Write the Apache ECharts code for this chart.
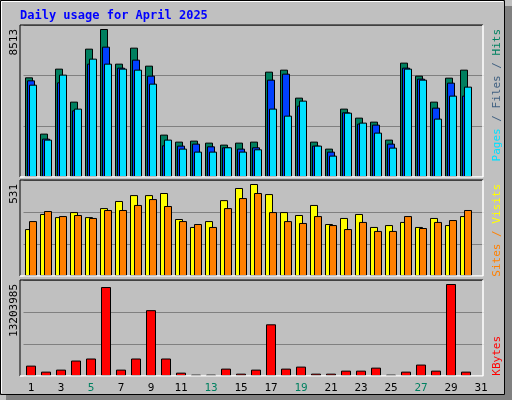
<!DOCTYPE html>
<html><head><meta charset="utf-8">
<script src="https://cdn.jsdelivr.net/npm/echarts@6/dist/echarts.min.js"></script>
<style>html,body{margin:0;padding:0;background:#c0c0c0}#c{width:512px;height:400px}</style>
</head><body><div id="c"></div>
<script>
const days = ['1','2','3','4','5','6','7','8','9','10','11','12','13','14','15','16','17','18','19','20','21','22','23','24','25','26','27','28','29','30','31'];
const weekend = ['5','6','12','13','19','20','26','27'];
const hits  = [5733,2495,6233,4335,7383,8513,6520,7440,6405,2438,2035,2093,1978,1863,1978,2035,6060,6175,4565,2035,1633,3933,3415,3185,2150,6578,5830,4335,5715,6175,null];
const files = [5560,2208,5445,3835,6520,7498,6290,6750,5830,1823,1805,1920,1765,1708,1633,1708,5600,5945,4105,1805,1460,3720,3070,3013,1920,6290,5658,3990,5428,4680,null];
const pages = [5310,2150,5888,3933,6808,6520,6233,6175,5370,2150,1633,1460,1460,1708,1460,1593,3933,3530,4393,1805,1230,3700,3128,2553,1690,6233,5600,3358,4680,5198,null];
const visits = [271,358,340,369,340,392,433,467,467,479,329,283,317,438,508,531,473,369,352,410,300,335,358,283,294,312,283,335,294,346,null];
const sites  = [317,375,346,352,335,381,381,410,444,404,317,300,283,392,450,479,369,317,306,346,294,271,312,260,260,346,277,312,323,381,null];
const kbytes = [1490000,626000,916000,2220000,2510000,12770000,916000,2510000,9450000,2510000,482000,193000,193000,1060000,337000,916000,7420000,1060000,1350000,337000,337000,771000,771000,1200000,193000,626000,1640000,771000,13203985,626000,null];
const maxLabels = ['8513','531','13203985'];

const mono = 'DejaVu Sans Mono';
const gridL = 23.5, gridW = 465;
const grids = [{top:25,h:152,max:8513*152/148},{top:180,h:96,max:531*96/92},{top:280,h:96,max:13203985*96/92}];

const chart = echarts.init(document.getElementById('c'));
const xAxes = grids.map((g,i)=>({type:'category',gridIndex:i,data:days,
  axisLine:{show:false},axisTick:{show:false},
  axisLabel:{show:i===2,fontFamily:mono,fontSize:11,margin:7,
    color:(v)=>weekend.includes(v)?'#008060':'#000'}}));
const yAxes = grids.map((g,i)=>({type:'value',gridIndex:i,min:0,max:g.max,interval:g.max/3,
  axisLabel:{show:false},axisLine:{show:false},axisTick:{show:false},
  splitLine:{show:true,lineStyle:{color:'#808080',width:1}}}));
const bs = (name,data,gi,color,extra)=>Object.assign({type:'bar',name,data,xAxisIndex:gi,yAxisIndex:gi,
  barWidth:8,barGap:'-75%',itemStyle:{color,borderColor:'#000',borderWidth:1},animation:false},extra||{});

const panel = (y,h)=>[
  {type:'rect',shape:{x:20,y:y,width:463,height:h},style:{fill:'#c0c0c0'},z:-10},
  {type:'polyline',shape:{points:[[20,y+h],[20,y],[483,y]]},style:{stroke:'#000',lineWidth:1,fill:null},z:50},
  {type:'polyline',shape:{points:[[483,y],[483,y+h],[20,y+h]]},style:{stroke:'#fff',lineWidth:1.5,fill:null},z:50}
];
const rot = (x,y,rich,text,extra)=>Object.assign({type:'text',x,y,rotation:Math.PI/2,
  style:{text,rich,fontFamily:mono,fontSize:11,align:'right',verticalAlign:'middle'},z:60},extra||{});

chart.setOption({
  animation:false,
  grid:grids.map(g=>({left:gridL,width:gridW,top:g.top,height:g.h})),
  xAxis:xAxes, yAxis:yAxes,
  series:[
    bs('Hits',hits,0,'#007f5f'),bs('Files',files,0,'#0040ff'),bs('Pages',pages,0,'#00e0ff'),
    bs('Visits',visits,1,'#ffff00',{barGap:'-50%'}),bs('Sites',sites,1,'#ff8000',{barGap:'-50%'}),
    bs('KBytes',kbytes,2,'#ff0000',{barWidth:10})
  ],
  graphic:[
    {type:'rect',shape:{x:6,y:6,width:506,height:394},style:{fill:'#808080'},z:-30},
    {type:'rect',shape:{x:0.5,y:0.5,width:504,height:394},style:{fill:'#c0c0c0',stroke:'#000',lineWidth:1},z:-20},
    {type:'polyline',shape:{points:[[1.5,393],[1.5,1.5],[503,1.5]]},style:{stroke:'#fff',lineWidth:1,fill:null},z:-19},
    {type:'text',x:20,y:16,style:{text:'Daily usage for April 2025',fontFamily:mono,fontWeight:'bold',fontSize:12,fill:'#0000ff',verticalAlign:'middle'},z:60},
    ...panel(25,152),...panel(180,96),...panel(280,96),
    {type:'rect',shape:{x:484,y:20,width:8,height:360},style:{fill:'#c0c0c0'},z:40},
    rot(14,29,null,maxLabels[0],{style:{text:maxLabels[0],fontFamily:mono,fontSize:11,fill:'#000',align:'right',verticalAlign:'middle'}}),
    rot(14,184,null,maxLabels[1],{style:{text:maxLabels[1],fontFamily:mono,fontSize:11,fill:'#000',align:'right',verticalAlign:'middle'}}),
    rot(14,284,null,maxLabels[2],{style:{text:maxLabels[2],fontFamily:mono,fontSize:11,fill:'#000',align:'right',verticalAlign:'middle'}}),
    rot(497,29,null,'',{style:{text:'{p|Pages} {f|/} {f|Files} {f|/} {h|Hits}',fontFamily:mono,fontSize:11,align:'right',verticalAlign:'middle',
      rich:{p:{fill:'#00e0ff',fontFamily:mono,fontSize:11},f:{fill:'#406080',fontFamily:mono,fontSize:11},h:{fill:'#008060',fontFamily:mono,fontSize:11}}}}),
    rot(497,184,null,'',{style:{text:'{s|Sites} {s2|/} {v|Visits}',fontFamily:mono,fontSize:11,align:'right',verticalAlign:'middle',
      rich:{s:{fill:'#ff8000',fontFamily:mono,fontSize:11},s2:{fill:'#ff8000',fontFamily:mono,fontSize:11},v:{fill:'#ffff00',fontFamily:mono,fontSize:11}}}}),
    rot(497,284,null,'',{style:{text:'KBytes',fill:'#ff0000',fontFamily:mono,fontSize:11,align:'right',verticalAlign:'middle'}, x:497, y:336})
  ]
});
</script></body></html>
